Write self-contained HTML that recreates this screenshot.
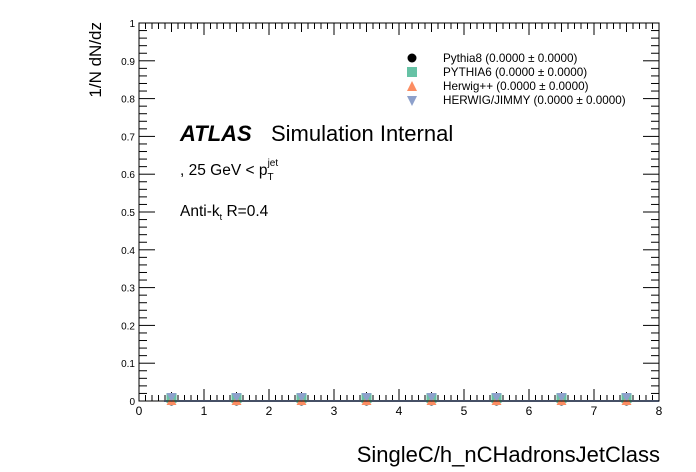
<!DOCTYPE html>
<html><head><meta charset="utf-8"><style>
html,body{margin:0;padding:0;background:#fff}
svg{display:block;font-family:"Liberation Sans",Arial,sans-serif}
</style></head><body>
<svg id="c" width="696" height="472" viewBox="0 0 696 472">
<rect x="0" y="0" width="696" height="472" fill="#fff"/>
<g id="ticks"></g>
<g id="marks"></g>
<rect x="139" y="23" width="520" height="378" fill="none" stroke="#000" stroke-width="1"/>
<text x="101" y="22" font-size="17" transform="rotate(-90 101 22)" text-anchor="end">1/N dN/dz</text>
<text x="660" y="462" font-size="22" text-anchor="end">SingleC/h_nCHadronsJetClass</text>
<text x="180" y="141" font-size="22" font-weight="bold" font-style="italic">ATLAS</text>
<text x="271" y="141" font-size="22">Simulation Internal</text>
<text x="180" y="175" font-size="15.5">, 25 GeV &lt; p<tspan dy="5" font-size="10">T</tspan><tspan dx="-6" dy="-14" font-size="10">jet</tspan></text>
<text x="180" y="216" font-size="15.5">Anti-k<tspan dy="4" font-size="9">t</tspan><tspan dy="-4"> R=0.4</tspan></text>
<g id="legend" font-size="11.7">
 <g><circle cx="412" cy="58" r="4.5" fill="#000"/><text x="443" y="62">Pythia8 (0.0000 ± 0.0000)</text></g>
 <g><rect x="407" y="67" width="10" height="10" fill="#66c2a5"/><text x="443" y="76">PYTHIA6 (0.0000 ± 0.0000)</text></g>
 <g><polygon points="412,81 417,91 407,91" fill="#fc8d62"/><text x="443" y="90">Herwig++ (0.0000 ± 0.0000)</text></g>
 <g><polygon points="407,96 417,96 412,106" fill="#8da0cb"/><text x="443" y="104">HERWIG/JIMMY (0.0000 ± 0.0000)</text></g>
</g>
</svg>
<script>
const categories=[0.5,1.5,2.5,3.5,4.5,5.5,6.5,7.5];
const pythia8=[0,0,0,0,0,0,0,0];
const pythia6=[0,0,0,0,0,0,0,0];
const herwigpp=[0,0,0,0,0,0,0,0];
const herwigJimmy=[0,0,0,0,0,0,0,0];
const xTickLabels=["0","1","2","3","4","5","6","7","8"];
const yTickLabels=["0","0.1","0.2","0.3","0.4","0.5","0.6","0.7","0.8","0.9","1"];
const X0=139,X1=659,Y0=401,Y1=23,xmin=0,xmax=8,ymin=0,ymax=1;
function xs(v){return X0+(v-xmin)/(xmax-xmin)*(X1-X0);}
function ys(v){return Y0-(v-ymin)/(ymax-ymin)*(Y0-Y1);}
const NS="http://www.w3.org/2000/svg";
function mk(t,a,p){const e=document.createElementNS(NS,t);for(const k in a)e.setAttribute(k,a[k]);p.appendChild(e);return e;}
const tg=document.getElementById('ticks');
for(let i=0;i<=80;i++){const v=i/10;const x=xs(v);const maj=i%10===0;const mid=i%5===0;
 const L=maj?12:(mid?9:6);
 mk('line',{x1:x,x2:x,y1:Y0,y2:Y0-L,stroke:'#000'},tg);
 mk('line',{x1:x,x2:x,y1:Y1,y2:Y1+L,stroke:'#000'},tg);}
xTickLabels.forEach((s,i)=>{const t=mk('text',{x:xs(i),y:Y0+14,'font-size':12,'text-anchor':'middle'},tg);t.textContent=s;

});
for(let i=0;i<=50;i++){const v=i/50;const y=ys(v);const maj=i%5===0;const L=maj?16:8;
 mk('line',{x1:X0,x2:X0+L,y1:y,y2:y,stroke:'#000'},tg);
 mk('line',{x1:X1,x2:X1-L,y1:y,y2:y,stroke:'#000'},tg);}
yTickLabels.forEach((s,i)=>{const t=mk('text',{x:X0-4,y:ys(i/10)+4,'font-size':10,'text-anchor':'end'},tg);t.textContent=s;

});
const mg=document.getElementById('marks');
const line=mk('polyline',{points:[[X0+25,ys(herwigJimmy[0])],...categories.map((c,i)=>[xs(c),ys(herwigJimmy[i])]),[X1,ys(herwigJimmy[7])]].map(p=>p.join(',')).join(' '),fill:'none',stroke:'#8da0cb','stroke-width':2},mg);


categories.forEach((c,i)=>{const x=xs(c);
 let e=mk('circle',{cx:x,cy:ys(pythia8[i]),r:4.5,fill:'#000'},mg);
 
 
 e=mk('rect',{x:x-5,y:ys(pythia6[i])-8,width:10,height:10,fill:'#66c2a5'},mg);
 
 
 const yh=ys(herwigpp[i]);
 e=mk('polygon',{points:`${x},${yh-5} ${x+5},${yh+4} ${x-5},${yh+4}`,fill:'#fc8d62'},mg);
 
 
 const yj=ys(herwigJimmy[i]);
 e=mk('polygon',{points:`${x-5},${yj-8} ${x+5},${yj-8} ${x},${yj+1}`,fill:'#8da0cb'},mg);
 
 
});
</script>
</body></html>
